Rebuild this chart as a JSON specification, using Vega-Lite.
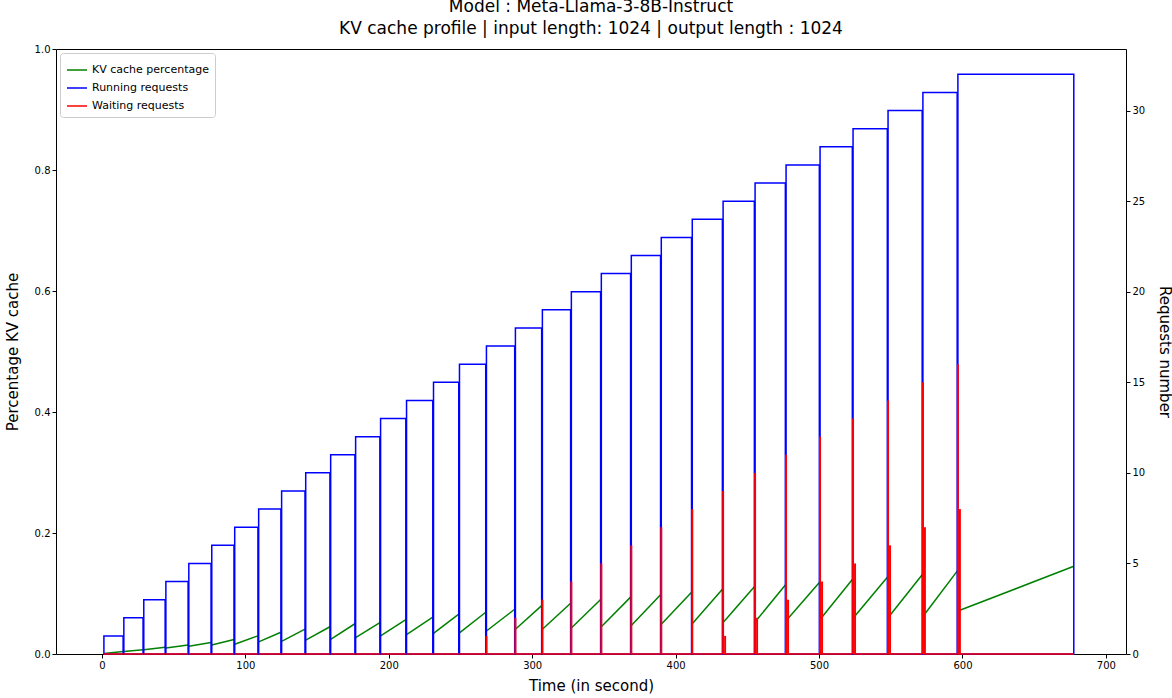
{
  "$schema": "https://vega.github.io/schema/vega-lite/v6.json",
  "width": 1070,
  "height": 605,
  "autosize": {"type": "none"},
  "padding": {"left": 56, "top": 49, "right": 46, "bottom": 44},
  "title": {
    "text": ["Model : Meta-Llama-3-8B-Instruct", "KV cache profile | input length: 1024 | output length : 1024"],
    "fontSize": 17,
    "fontWeight": "normal",
    "font": "DejaVu Sans",
    "color": "black",
    "offset": 6,
    "lineHeight": 22
  },
  "data": {
    "values": [
      {"n": 1, "t0": 1.4, "t1": 14.8, "k0": 0.001, "k1": 0.004, "w1": 0, "w2": 0},
      {"n": 2, "t0": 15.3, "t1": 28.7, "k0": 0.004, "k1": 0.007, "w1": 0, "w2": 0},
      {"n": 3, "t0": 29.2, "t1": 44.1, "k0": 0.007, "k1": 0.011, "w1": 0, "w2": 0},
      {"n": 4, "t0": 44.6, "t1": 60.1, "k0": 0.010, "k1": 0.015, "w1": 0, "w2": 0},
      {"n": 5, "t0": 60.6, "t1": 76.1, "k0": 0.013, "k1": 0.019, "w1": 0, "w2": 0},
      {"n": 6, "t0": 76.6, "t1": 92.1, "k0": 0.015, "k1": 0.024, "w1": 0, "w2": 0},
      {"n": 7, "t0": 92.6, "t1": 108.8, "k0": 0.016, "k1": 0.030, "w1": 0, "w2": 0},
      {"n": 8, "t0": 109.3, "t1": 124.8, "k0": 0.020, "k1": 0.036, "w1": 0, "w2": 0},
      {"n": 9, "t0": 125.3, "t1": 141.6, "k0": 0.021, "k1": 0.041, "w1": 0, "w2": 0},
      {"n": 10, "t0": 142.1, "t1": 159.0, "k0": 0.023, "k1": 0.045, "w1": 0, "w2": 0},
      {"n": 11, "t0": 159.5, "t1": 176.4, "k0": 0.024, "k1": 0.050, "w1": 0, "w2": 0},
      {"n": 12, "t0": 176.9, "t1": 193.8, "k0": 0.027, "k1": 0.052, "w1": 0, "w2": 0},
      {"n": 13, "t0": 194.3, "t1": 211.9, "k0": 0.030, "k1": 0.057, "w1": 0, "w2": 0},
      {"n": 14, "t0": 212.4, "t1": 230.7, "k0": 0.032, "k1": 0.061, "w1": 0, "w2": 0},
      {"n": 15, "t0": 231.2, "t1": 248.8, "k0": 0.034, "k1": 0.066, "w1": 0, "w2": 0},
      {"n": 16, "t0": 249.3, "t1": 267.6, "k0": 0.035, "k1": 0.069, "w1": 0, "w2": 0},
      {"n": 17, "t0": 268.1, "t1": 287.8, "k0": 0.038, "k1": 0.074, "w1": 1, "w2": 0},
      {"n": 18, "t0": 288.3, "t1": 306.6, "k0": 0.041, "k1": 0.080, "w1": 2, "w2": 0},
      {"n": 19, "t0": 307.1, "t1": 326.8, "k0": 0.041, "k1": 0.084, "w1": 3, "w2": 0},
      {"n": 20, "t0": 327.3, "t1": 347.7, "k0": 0.043, "k1": 0.090, "w1": 4, "w2": 0},
      {"n": 21, "t0": 348.2, "t1": 368.6, "k0": 0.045, "k1": 0.094, "w1": 5, "w2": 0},
      {"n": 22, "t0": 369.1, "t1": 389.5, "k0": 0.047, "k1": 0.098, "w1": 6, "w2": 0},
      {"n": 23, "t0": 390.0, "t1": 411.1, "k0": 0.049, "k1": 0.102, "w1": 7, "w2": 0},
      {"n": 24, "t0": 411.6, "t1": 432.6, "k0": 0.050, "k1": 0.107, "w1": 8, "w2": 0},
      {"n": 25, "t0": 433.1, "t1": 454.9, "k0": 0.052, "k1": 0.111, "w1": 9, "w2": 1},
      {"n": 26, "t0": 455.4, "t1": 476.5, "k0": 0.053, "k1": 0.114, "w1": 10, "w2": 2},
      {"n": 27, "t0": 477.0, "t1": 500.2, "k0": 0.055, "k1": 0.118, "w1": 11, "w2": 3},
      {"n": 28, "t0": 500.7, "t1": 523.2, "k0": 0.057, "k1": 0.123, "w1": 12, "w2": 4},
      {"n": 29, "t0": 523.7, "t1": 547.6, "k0": 0.059, "k1": 0.127, "w1": 13, "w2": 5},
      {"n": 30, "t0": 548.1, "t1": 571.9, "k0": 0.060, "k1": 0.131, "w1": 14, "w2": 6},
      {"n": 31, "t0": 572.4, "t1": 596.3, "k0": 0.062, "k1": 0.137, "w1": 15, "w2": 7},
      {"n": 32, "t0": 596.8, "t1": 677.6, "k0": 0.071, "k1": 0.145, "w1": 16, "w2": 8}
    ]
  },
  "layer": [
    {
      "mark": {"type": "rule", "strokeWidth": 1.5},
      "encoding": {
        "x": {
          "field": "t0",
          "type": "quantitative",
          "scale": {"domain": [-32, 714], "nice": false, "zero": false},
          "axis": {"values": [0, 100, 200, 300, 400, 500, 600, 700], "title": "Time (in second)", "titleFontSize": 15, "titleFontWeight": "normal", "titlePadding": 8}
        },
        "x2": {"field": "t1"},
        "y": {
          "field": "k0",
          "type": "quantitative",
          "scale": {"domain": [0, 1], "nice": false},
          "axis": {"values": [0, 0.2, 0.4, 0.6, 0.8, 1.0], "format": ".1f", "title": "Percentage KV cache", "titleFontSize": 15, "titleFontWeight": "normal", "titlePadding": 14}
        },
        "y2": {"field": "k1"},
        "color": {
          "datum": "KV cache percentage",
          "type": "nominal",
          "scale": {"domain": ["KV cache percentage", "Running requests", "Waiting requests"], "range": ["green", "blue", "red"]},
          "legend": {
            "title": null,
            "orient": "top-left",
            "symbolType": "stroke",
            "symbolStrokeWidth": 1.5,
            "symbolSize": 400,
            "labelFontSize": 11,
            "strokeColor": "#cccccc",
            "fillColor": "white",
            "padding": 6,
            "cornerRadius": 3,
            "offset": 4
          }
        }
      }
    },
    {
      "mark": {"type": "rect", "filled": false, "strokeWidth": 1.5},
      "encoding": {
        "x": {"field": "t0", "type": "quantitative"},
        "x2": {"field": "t1"},
        "y": {
          "field": "n",
          "type": "quantitative",
          "scale": {"domain": [0, 33.4], "nice": false, "zero": true},
          "axis": {"orient": "right", "values": [0, 5, 10, 15, 20, 25, 30], "title": "Requests number", "titleFontSize": 15, "titleFontWeight": "normal", "titlePadding": 12}
        },
        "y2": {"datum": 0},
        "color": {"datum": "Running requests", "type": "nominal"}
      }
    },
    {
      "layer": [
        {
          "mark": {"type": "rule", "strokeWidth": 1.5},
          "encoding": {
            "x": {"field": "t0", "type": "quantitative"},
            "x2": {"field": "t1"},
            "y": {"datum": 0, "type": "quantitative"},
            "color": {"datum": "Waiting requests", "type": "nominal"}
          }
        },
        {
          "transform": [{"filter": "datum.w1 > 0"}],
          "mark": {"type": "rule", "strokeWidth": 2},
          "encoding": {
            "x": {"field": "t0", "type": "quantitative"},
            "y": {"field": "w1", "type": "quantitative"},
            "y2": {"datum": 0},
            "color": {"datum": "Waiting requests", "type": "nominal"}
          }
        },
        {
          "transform": [{"filter": "datum.w2 > 0"}],
          "mark": {"type": "rule", "strokeWidth": 2, "xOffset": 2},
          "encoding": {
            "x": {"field": "t0", "type": "quantitative"},
            "y": {"field": "w2", "type": "quantitative"},
            "y2": {"datum": 0},
            "color": {"datum": "Waiting requests", "type": "nominal"}
          }
        }
      ],
      "encoding": {
        "y": {"type": "quantitative", "scale": {"domain": [0, 33.4], "nice": false}, "axis": null}
      }
    }
  ],
  "resolve": {"scale": {"y": "independent"}},
  "config": {
    "font": "DejaVu Sans",
    "view": {"stroke": "black"},
    "axis": {"grid": false, "domain": false, "tickColor": "black", "tickSize": 4, "labelColor": "black", "labelFontSize": 10, "titleColor": "black"}
  }
}
